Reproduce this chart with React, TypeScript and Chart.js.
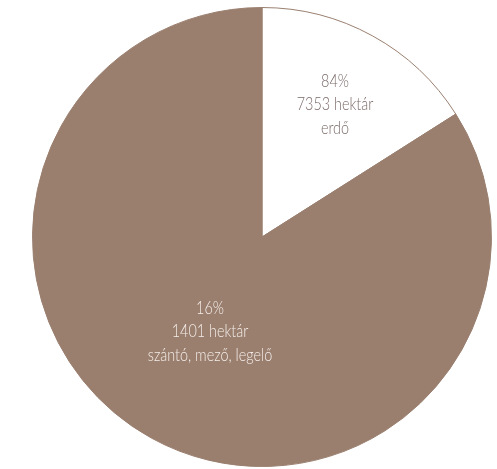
import React, { useEffect, useRef } from "react";
import { Chart, registerables } from "chart.js";

Chart.register(...registerables);

const categories = ["erdő", "szántó, mező, legelő"];
const values = [1401, 7353];
const labelLines = [
  ["84%", "7353 hektár", "erdő"],
  ["16%", "1401 hektár", "szántó, mező, legelő"],
];

const sliceColors = ["#ffffff", "#9a7f6f"];
const textColors = ["#7a6b69", "#f4ede9"];
const labelRadiusFactor = [0.66, 0.47];
const FONT = '300 18px Lato, "Liberation Sans", sans-serif';
const TEXT_SCALE_X = 0.8;

const labelPlugin = {
  id: "sliceLabels",
  afterDatasetsDraw(chart: any) {
    const ctx = chart.ctx;
    const meta = chart.getDatasetMeta(0);
    meta.data.forEach((arc: any, i: number) => {
      const p = arc.getProps(["x", "y", "startAngle", "endAngle", "outerRadius"], true);
      const mid = (p.startAngle + p.endAngle) / 2;
      const r = p.outerRadius * labelRadiusFactor[i];
      const x = p.x + Math.cos(mid) * r;
      const y = p.y + Math.sin(mid) * r;
      const lines = labelLines[i];
      const lh = 23.5;
      ctx.save();
      ctx.font = FONT;
      ctx.fillStyle = textColors[i];
      ctx.textAlign = "center";
      ctx.textBaseline = "middle";
      ctx.translate(x, y);
      ctx.scale(TEXT_SCALE_X, 1);
      lines.forEach((t, k) => {
        ctx.fillText(t, 0, (k - (lines.length - 1) / 2) * lh);
      });
      ctx.restore();
    });
  },
};

export default function App() {
  const ref = useRef<HTMLCanvasElement>(null);
  useEffect(() => {
    if (!ref.current) return;
    const chart = new Chart(ref.current, {
      type: "pie",
      data: {
        labels: categories,
        datasets: [
          {
            data: values,
            backgroundColor: sliceColors,
            borderColor: "#9a7f6f",
            borderWidth: 1,
          },
        ],
      },
      options: {
        animation: false,
        responsive: false,
        layout: { padding: { top: 7, bottom: 2, left: 27, right: 0 } },
        plugins: {
          legend: { display: false },
          tooltip: { enabled: false },
        },
      },
      plugins: [labelPlugin],
    });
    return () => chart.destroy();
  }, []);
  return (
    <div style={{ position: "absolute", left: 0, top: 0, width: 497, height: 469, background: "#fff" }}>
      <canvas ref={ref} width={497} height={469} style={{ width: 497, height: 469 }} />
    </div>
  );
}
